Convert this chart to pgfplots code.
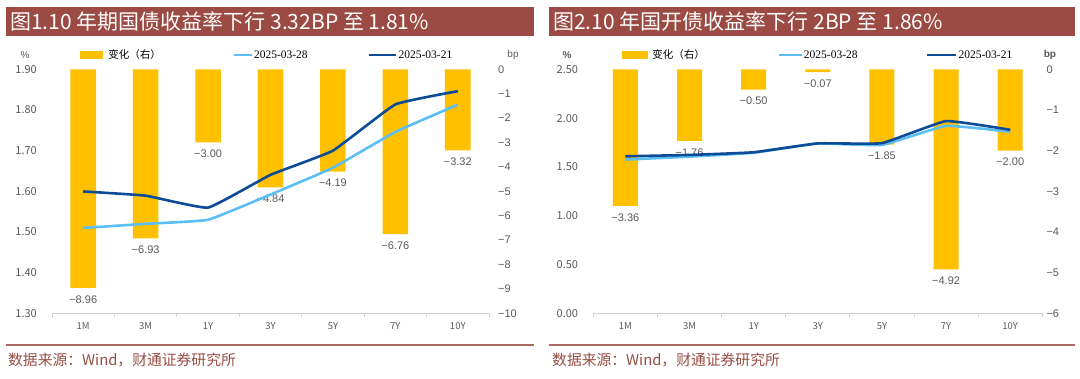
\documentclass[border=0pt]{standalone}
\usepackage{pgfplots}
\pgfplotsset{compat=1.18}
\usepackage{pgfplotstable}
\usepackage{fontspec}
\setmainfont{Liberation Serif}
\newfontfamily\cjk{Noto Sans CJK SC}
\newfontfamily\lsans{Liberation Sans}
\definecolor{bary}{RGB}{255,192,0}
\definecolor{lblue}{RGB}{91,190,245}
\definecolor{dblue}{RGB}{12,75,150}
\definecolor{banner}{RGB}{155,74,68}
\definecolor{tgray}{RGB}{89,89,89}
\definecolor{agray}{RGB}{210,210,210}
\definecolor{src}{RGB}{150,78,68}
\definecolor{rulec}{RGB}{175,105,100}

\pgfplotstableread{
x chg lbl y28 y21
0 -8.96 −8.96 1.510 1.5996
1 -6.93 −6.93 1.520 1.5893
2 -3.00 −3.00 1.530 1.5600
3 -4.84 −4.84 1.592 1.6404
4 -4.19 −4.19 1.658 1.6999
5 -6.76 −6.76 1.746 1.8136
6 -3.32 −3.32 1.813 1.8462
}\tgov

\pgfplotstableread{
x chg lbl y28 y21
0 -3.36 −3.36 1.575 1.6086
1 -1.76 −1.76 1.605 1.6226
2 -0.50 −0.50 1.645 1.6500
3 -0.07 −0.07 1.740 1.7407
4 -1.85 −1.85 1.725 1.7435
5 -4.92 −4.92 1.920 1.9692
6 -2.00 −2.00 1.860 1.8800
}\tcdb

\pgfplotsset{
 base/.style={scale only axis, anchor=south west, height=244pt, xmin=-0.5, xmax=6.5, clip=false},
 leftax/.style={base,
   axis x line*=bottom, axis y line*=left,
   x axis line style={draw=agray, line width=0.8pt, -},
   y axis line style={draw=none},
   xtick={0,...,6}, xticklabels={1M,3M,1Y,3Y,5Y,7Y,10Y},
   major x tick style={draw=none},
   minor xtick={-0.5,0.5,...,6.5},
   minor x tick style={draw=agray, line width=0.8pt},
   minor tick length=4pt, xtick align=outside,
   ytick style={draw=none},
   xticklabel style={font=\cjk\fontsize{9.5}{10}\selectfont, text=tgray, inner sep=0pt, anchor=north, yshift=-5pt},
   yticklabel style={font=\cjk\fontsize{11}{11}\selectfont, text=tgray, inner sep=0pt, anchor=east, xshift=-15pt},
   legend columns=3,
   legend cell align=left,
   legend style={draw=none, fill=none, inner sep=0pt, outer sep=0pt, column sep=0pt, row sep=0pt,
     nodes={inner sep=0pt, outer sep=0pt}, anchor=west},
 },
 rightax/.style={base,
   axis x line=none, axis y line*=right,
   y axis line style={draw=none}, ytick style={draw=none},
   xtick=\empty,
   yticklabel style={font=\lsans\fontsize{11}{11}\selectfont, text=tgray, inner sep=0pt, anchor=west},
 },
 barplot/.style={ybar, fill=bary, draw=none, nodes near coords, point meta=explicit symbolic,
   every node near coord/.append style={font=\lsans\fontsize{11}{11}\selectfont, text=tgray, inner sep=0pt, yshift=-15.5pt}},
}

\begin{document}
\begin{tikzpicture}[x=1pt,y=1pt]
\useasboundingbox (0,0) rectangle (1080,378);
\fill[banner] (6,342) rectangle (534,371);
\fill[banner] (549,342) rectangle (1075,371);
\node[anchor=west, text=white, font=\cjk\fontsize{21}{21}\selectfont, inner sep=0pt] at (10,356.5) {图1.10 年期国债收益率下行 3.32BP 至 1.81\%};
\node[anchor=west, text=white, font=\cjk\fontsize{21}{21}\selectfont, inner sep=0pt] at (553,356.5) {图2.10 年国开债收益率下行 2BP 至 1.86\%};
\draw[rulec, line width=1.5pt] (6,33) -- (534,33);
\draw[rulec, line width=1.5pt] (549,33) -- (1075,33);
\node[anchor=west, text=src, font=\cjk\fontsize{14.8}{15}\selectfont, inner sep=0pt] at (8,18) {数据来源：Wind，财通证券研究所};
\node[anchor=west, text=src, font=\cjk\fontsize{14.8}{15}\selectfont, inner sep=0pt] at (552,18) {数据来源：Wind，财通证券研究所};

% ---------------- Panel 1 ----------------
\begin{axis}[rightax, at={(52pt,64.7pt)}, width=437pt, ymin=-10, ymax=0,
  ytick={-10,-9,...,0}, yticklabels={−10,−9,−8,−7,−6,−5,−4,−3,−2,−1,0},
  yticklabel style={xshift=9pt}]
\addplot[barplot, bar width=0.41] table[x=x, y=chg, meta=lbl]{\tgov};
\node[font=\lsans\fontsize{10}{10}\selectfont, text=tgray] at (axis description cs:1.055,1.0586) {bp};
\end{axis}
\begin{axis}[leftax, at={(52pt,64.7pt)}, width=437pt, ymin=1.3, ymax=1.9,
  ytick={1.3,1.4,1.5,1.6,1.7,1.8,1.9}, yticklabels={1.30,1.40,1.50,1.60,1.70,1.80,1.90},
  legend style={at={(axis description cs:0.0641,1.0586)}}]
\addlegendimage{legend image code/.code={\fill[bary] (0pt,-3.5pt) rectangle (22pt,3.5pt); \path (28pt,0pt);}}
\addlegendentry{\makebox[124pt][l]{\cjk\fontsize{10.5}{11}\selectfont 变化（右）}}
\addplot[color=lblue, line width=2.6pt, smooth, tension=0.2,
  legend image code/.code={\draw[lblue, line width=2.6pt] (0pt,0pt) -- (18pt,0pt); \path (19pt,0pt);}]
  table[x=x, y=y28]{\tgov};
\addlegendentry{\makebox[114pt][l]{\fontsize{11.5}{12}\selectfont 2025-03-28}}
\addplot[color=dblue, line width=2.6pt, smooth, tension=0.2,
  legend image code/.code={\draw[dblue, line width=2.6pt] (0pt,0pt) -- (27pt,0pt); \path (28pt,0pt);}]
  table[x=x, y=y21]{\tgov};
\addlegendentry{\fontsize{11.5}{12}\selectfont 2025-03-21}
\node[font=\lsans\fontsize{10}{10}\selectfont, text=tgray] at (axis description cs:-0.0618,1.0586) {\%};
\end{axis}

% ---------------- Panel 2 ----------------
\begin{axis}[rightax, at={(593.3pt,64.7pt)}, width=449pt, ymin=-6, ymax=0,
  ytick={-6,-5,...,0}, yticklabels={−6,−5,−4,−3,−2,−1,0},
  yticklabel style={xshift=4pt}]
\addplot[barplot, bar width=0.39] table[x=x, y=chg, meta=lbl]{\tcdb};
\node[font=\lsans\bfseries\fontsize{10}{10}\selectfont, text=tgray] at (axis description cs:1.017,1.0586) {bp};
\end{axis}
\begin{axis}[leftax, at={(593.3pt,64.7pt)}, width=449pt, ymin=0, ymax=2.5,
  ytick={0,0.5,1,1.5,2,2.5}, yticklabels={0.00,0.50,1.00,1.50,2.00,2.50},
  legend style={at={(axis description cs:0.0639,1.0586)}}]
\addlegendimage{legend image code/.code={\fill[bary] (0pt,-3.5pt) rectangle (25pt,3.5pt); \path (30pt,0pt);}}
\addlegendentry{\makebox[125pt][l]{\cjk\fontsize{10.5}{11}\selectfont 变化（右）}}
\addplot[color=lblue, line width=2.6pt, smooth, tension=0.2,
  legend image code/.code={\draw[lblue, line width=2.6pt] (0pt,0pt) -- (23pt,0pt); \path (24pt,0pt);}]
  table[x=x, y=y28]{\tcdb};
\addlegendentry{\makebox[122pt][l]{\fontsize{11.5}{12}\selectfont 2025-03-28}}
\addplot[color=dblue, line width=2.6pt, smooth, tension=0.2,
  legend image code/.code={\draw[dblue, line width=2.6pt] (0pt,0pt) -- (29pt,0pt); \path (30pt,0pt);}]
  table[x=x, y=y21]{\tcdb};
\addlegendentry{\fontsize{11.5}{12}\selectfont 2025-03-21}
\node[font=\lsans\bfseries\fontsize{10}{10}\selectfont, text=tgray] at (axis description cs:-0.0586,1.0586) {\%};
\end{axis}
\end{tikzpicture}
\end{document}
